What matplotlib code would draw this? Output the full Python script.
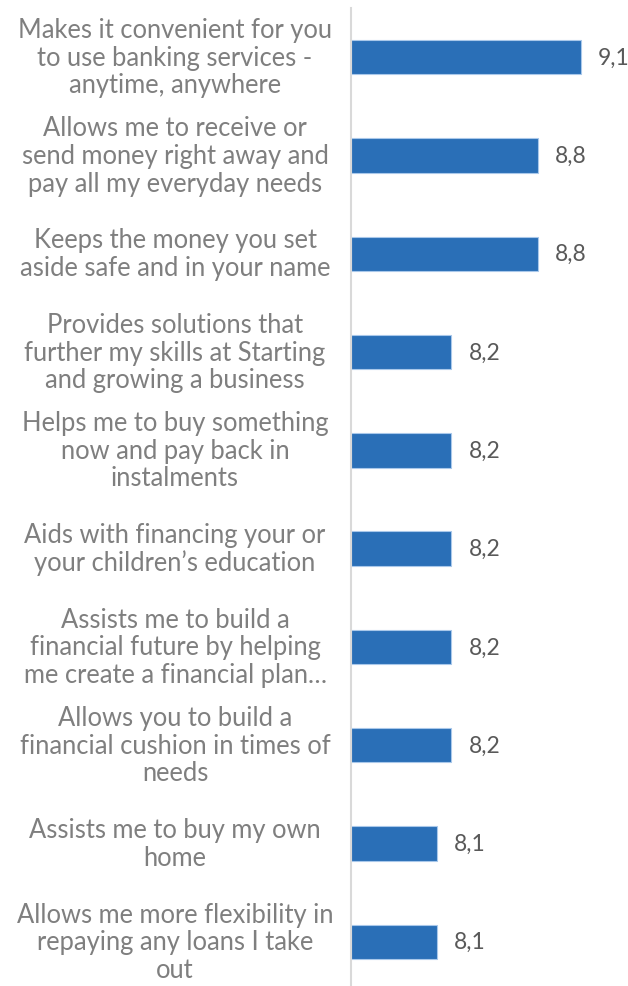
import matplotlib
matplotlib.use("Agg")
import matplotlib.pyplot as plt
import matplotlib.transforms as mtransforms

categories = [
    "Makes it convenient for you\nto use banking services -\nanytime, anywhere",
    "Allows me to receive or\nsend money right away and\npay all my everyday needs",
    "Keeps the money you set\naside safe and in your name",
    "Provides solutions that\nfurther my skills at Starting\nand growing a business",
    "Helps me to buy something\nnow and pay back in\ninstalments",
    "Aids with financing your or\nyour children\u2019s education",
    "Assists me to build a\nfinancial future by helping\nme create a financial plan\u2026",
    "Allows you to build a\nfinancial cushion in times of\nneeds",
    "Assists me to buy my own\nhome",
    "Allows me more flexibility in\nrepaying any loans I take\nout",
]
scores = [9.1, 8.8, 8.8, 8.2, 8.2, 8.2, 8.2, 8.2, 8.1, 8.1]

bar_color = "#2a6fb7"
label_color = "#7f7f7f"
value_color = "#595959"
plt.rcParams["font.family"] = ["Lato", "DejaVu Sans"]

fig = plt.figure(figsize=(6.28, 9.87), dpi=100)
ax = fig.add_axes([351 / 628, 0, 1 - 351 / 628, 978 / 987])

y = list(range(len(scores)))
ax.barh(y, [s - 7.5 for s in scores], left=7.5, height=0.35,
        color=bar_color, edgecolor="#a9c8ea", linewidth=0.8)

for yi, s in zip(y, scores):
    ax.text(s + 0.12, yi, f"{s:.1f}".replace(".", ","), va="center", ha="left",
            fontsize=16.5, color=value_color)

trans = mtransforms.blended_transform_factory(fig.transFigure, ax.transData)
for yi, lab in zip(y, categories):
    fig.text(175 / 628, yi, lab, transform=trans, ha="center", va="center",
             fontsize=18.4, color=label_color, linespacing=1.13)

ax.set_xlim(7.5, 9.43)
ax.set_ylim(9.45, -0.5)
ax.set_xticks([])
ax.set_yticks([])
for side in ["top", "right", "bottom"]:
    ax.spines[side].set_visible(False)
ax.spines["left"].set_color("#d9d9d9")
ax.spines["left"].set_linewidth(1.5)

fig.savefig("out.png", dpi=100)
